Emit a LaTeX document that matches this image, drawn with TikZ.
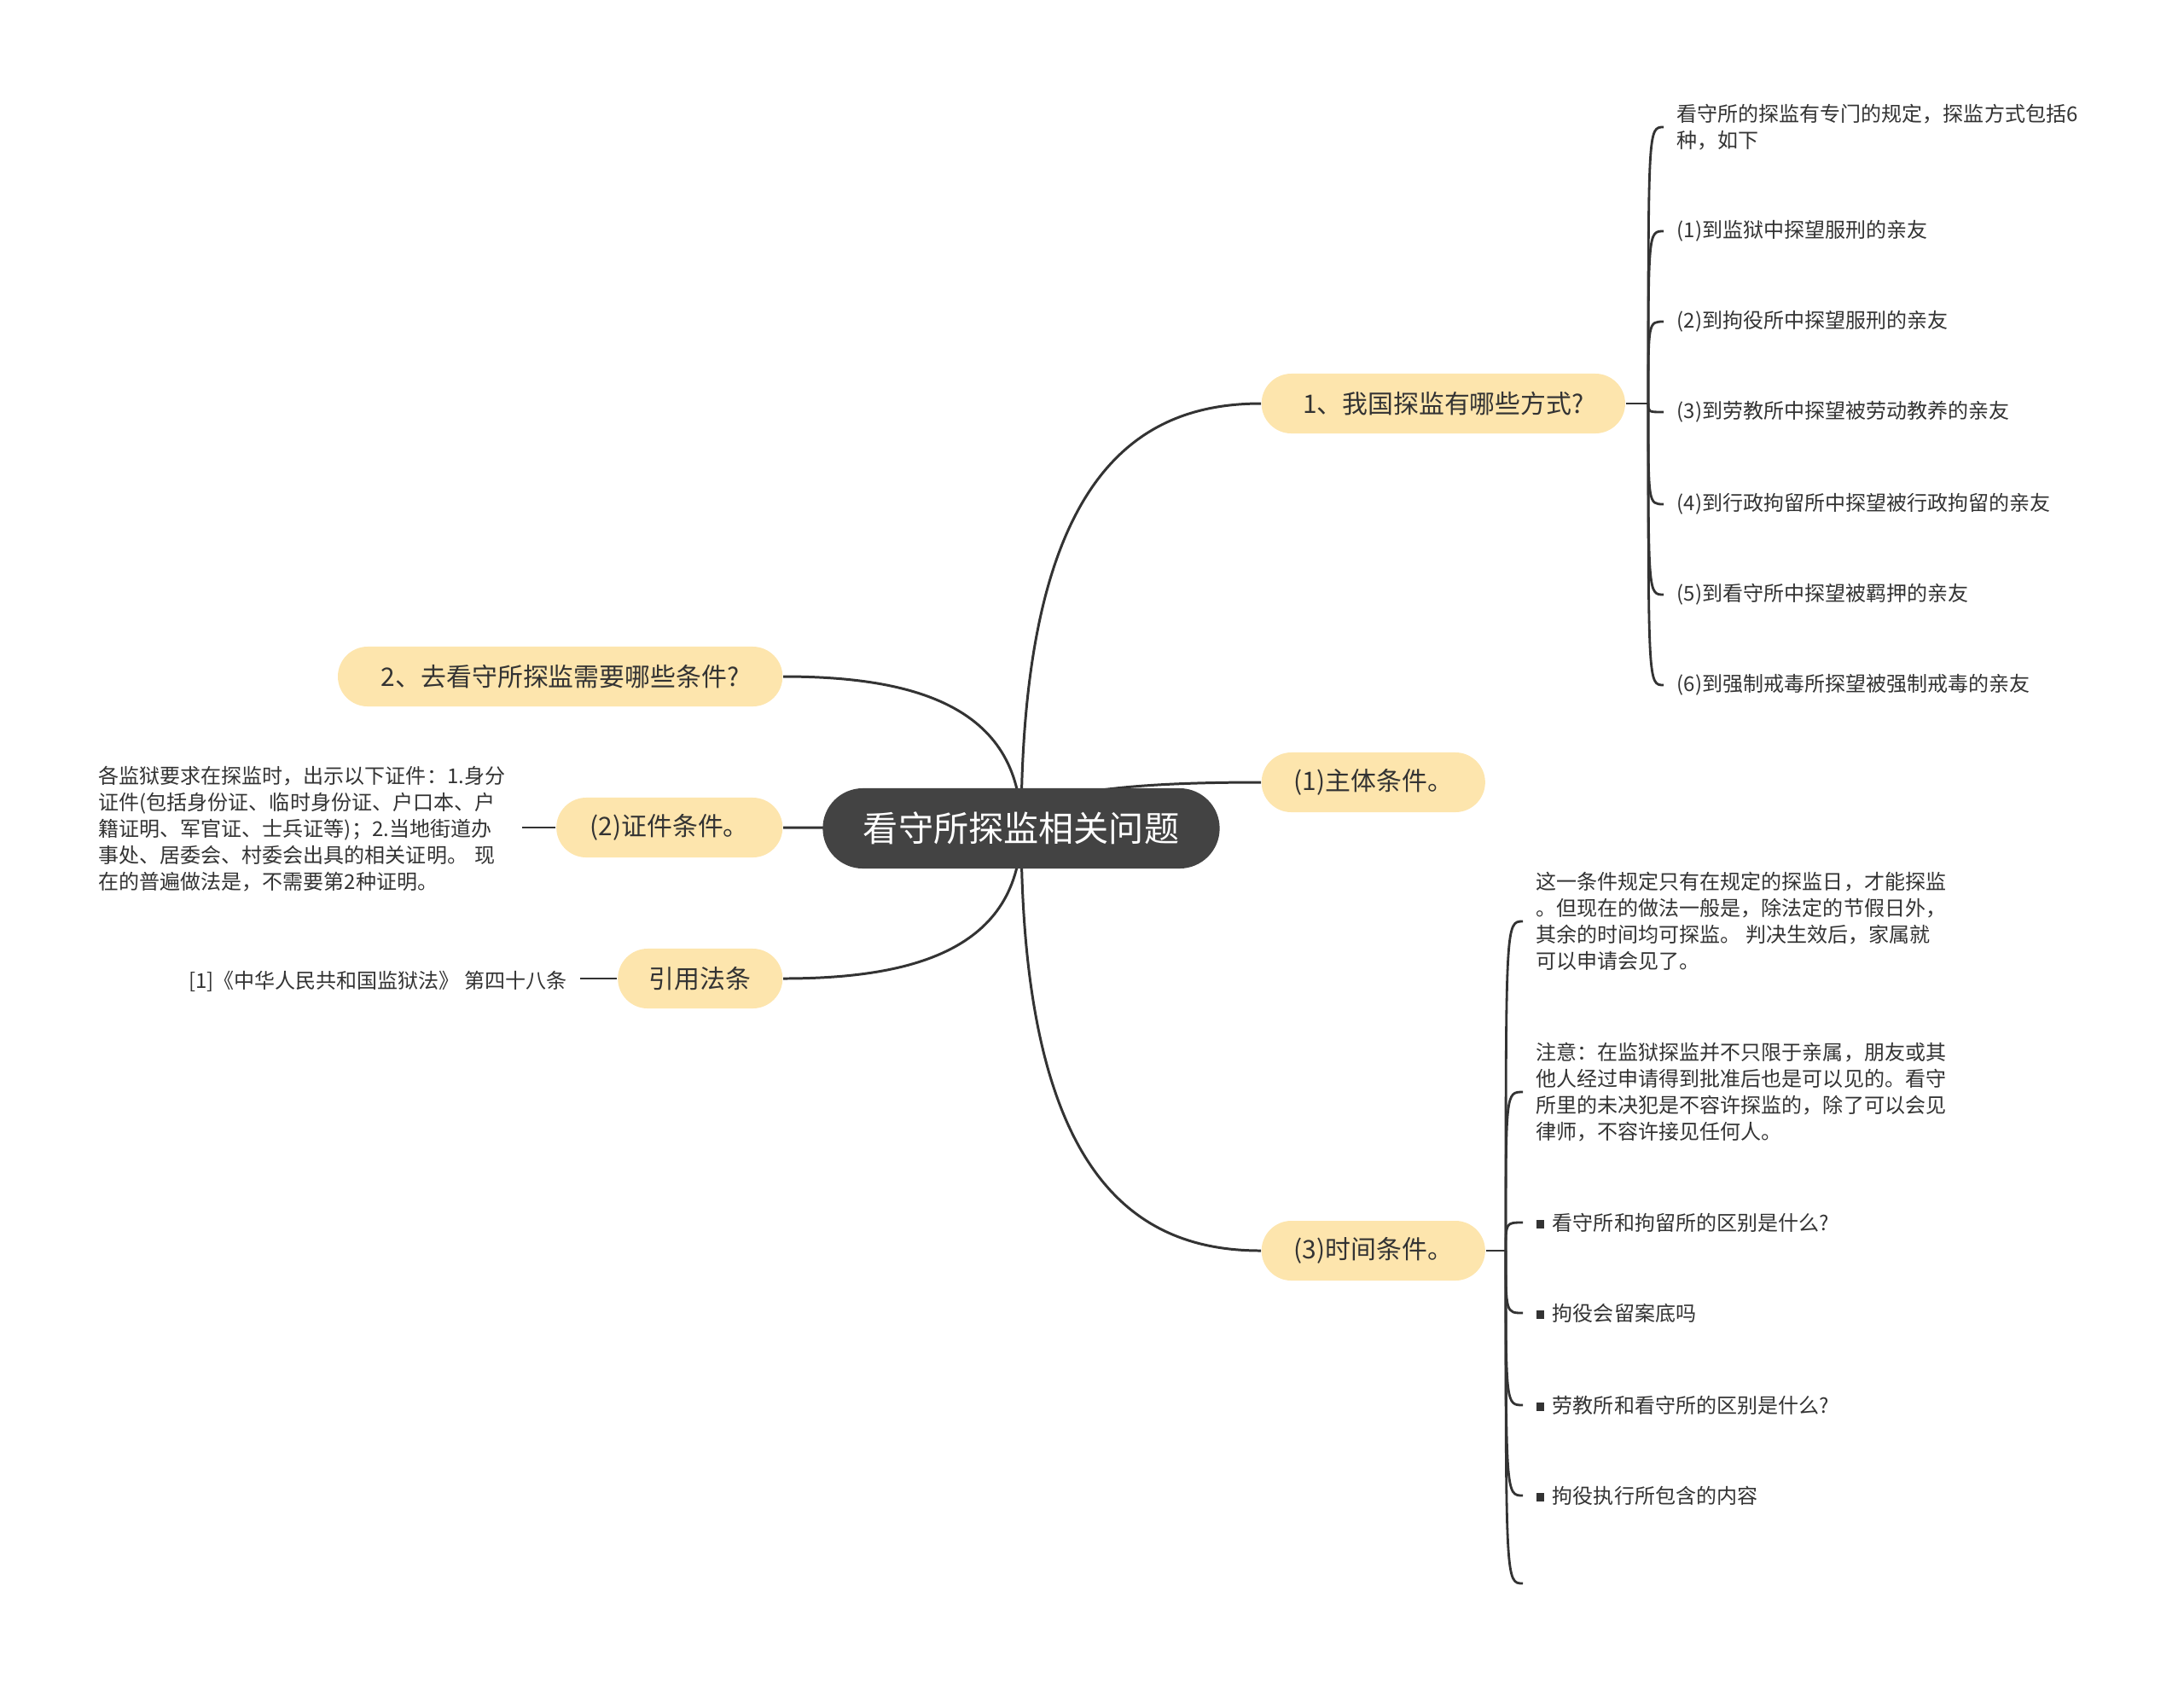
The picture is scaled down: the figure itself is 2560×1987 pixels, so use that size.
\documentclass[tikz,border=0pt]{standalone}
\usepackage{fontspec}
\setmainfont{Noto Sans CJK SC}
\usetikzlibrary{calc,backgrounds}
\definecolor{rootgray}{HTML}{434343}
\definecolor{topicyellow}{HTML}{FDE5AD}
\definecolor{inkgray}{HTML}{333333}
\newcommand{\sqbullet}{\rule[0.1em]{0.4em}{0.4em}\hspace{0.4em}}

\begin{document}
\begin{tikzpicture}[
  x=0.01cm, y=-0.01cm,
  root/.style={rounded corners=0.47cm, fill=rootgray, text=white, minimum height=0.94cm, minimum width=4.65cm, font=\fontsize{11.7pt}{14pt}\selectfont},
  topic/.style={rounded corners=0.35cm, fill=topicyellow, text=inkgray, minimum height=0.7cm, font=\fontsize{8.5pt}{10pt}\selectfont},
  leaf/.style={align=left, text=inkgray, inner xsep=0.15cm, inner ysep=0pt, font=\fontsize{6.83pt}{8.82pt}\selectfont},
  trunk/.style={draw=inkgray, line width=0.85pt, to path={.. controls ($(\tikztostart)!0.82!(\tikztostart |- \tikztotarget)$) and ($(\tikztotarget)!0.53!(\tikztostart |- \tikztotarget)$) .. (\tikztotarget)}},
  twig/.style={draw=inkgray, line width=0.8pt, to path={.. controls (\tikztostart |- \tikztotarget) .. (\tikztotarget)}}
]
\useasboundingbox (0,0) rectangle (2560,1987);

% centre and main topics
\node[root] (root) at (1197,971) {看守所探监相关问题};
\node[topic, anchor=west, minimum width=4.26cm] (ways) at (1478,473) {1、我国探监有哪些方式?};
\node[topic, anchor=west, minimum width=2.62cm] (subject) at (1478,917) {(1)主体条件。};
\node[topic, anchor=west, minimum width=2.62cm] (timing) at (1478,1466) {(3)时间条件。};
\node[topic, anchor=east, minimum width=5.21cm] (needs) at (918,793) {2、去看守所探监需要哪些条件?};
\node[topic, anchor=east, minimum width=2.65cm] (papers) at (918,970) {(2)证件条件。};
\node[topic, anchor=east, minimum width=1.93cm] (lawref) at (918,1147) {引用法条};

% ways of visiting
\coordinate (waysHub) at (1932,473);
\node[leaf, anchor=west] (w0) at (1950,149) {看守所的探监有专门的规定，探监方式包括6\\种，如下};
\node[leaf, anchor=west] (w1) at (1950,271) {(1)到监狱中探望服刑的亲友};
\node[leaf, anchor=west] (w2) at (1950,377) {(2)到拘役所中探望服刑的亲友};
\node[leaf, anchor=west] (w3) at (1950,483) {(3)到劳教所中探望被劳动教养的亲友};
\node[leaf, anchor=west] (w4) at (1950,591) {(4)到行政拘留所中探望被行政拘留的亲友};
\node[leaf, anchor=west] (w5) at (1950,697) {(5)到看守所中探望被羁押的亲友};
\node[leaf, anchor=west] (w6) at (1950,803) {(6)到强制戒毒所探望被强制戒毒的亲友};

% time conditions
\coordinate (timeHub) at (1765,1466);
\node[leaf, anchor=west] (t1) at (1785,1080) {这一条件规定只有在规定的探监日，才能探监\\。但现在的做法一般是，除法定的节假日外，\\其余的时间均可探监。 判决生效后，家属就\\可以申请会见了。};
\node[leaf, anchor=west] (t2) at (1785,1280) {注意：在监狱探监并不只限于亲属，朋友或其\\他人经过申请得到批准后也是可以见的。看守\\所里的未决犯是不容许探监的，除了可以会见\\律师，不容许接见任何人。};
\node[leaf, anchor=west] (t3) at (1785,1433) {\sqbullet 看守所和拘留所的区别是什么?};
\node[leaf, anchor=west] (t4) at (1785,1539) {\sqbullet 拘役会留案底吗};
\node[leaf, anchor=west] (t5) at (1785,1647) {\sqbullet 劳教所和看守所的区别是什么?};
\node[leaf, anchor=west] (t6) at (1785,1753) {\sqbullet 拘役执行所包含的内容};
\coordinate (t7) at (1785,1856);

% left leaves
\node[leaf, anchor=west, text width=4.8cm] (paperText) at (100,972) {各监狱要求在探监时，出示以下证件：1.身分\\证件(包括身份证、临时身份证、户口本、户\\籍证明、军官证、士兵证等)；2.当地街道办\\事处、居委会、村委会出具的相关证明。 现\\在的普遍做法是，不需要第2种证明。};
\node[leaf, anchor=east] (lawText) at (680,1150) {[1]《中华人民共和国监狱法》 第四十八条};

\begin{scope}[on background layer]
  \draw[trunk] (root.center) to (ways.west);
  \draw[trunk] (root.center) to (subject.west);
  \draw[trunk] (root.center) to (timing.west);
  \draw[trunk] (root.center) to (needs.east);
  \draw[trunk] (root.center) to (lawref.east);
  \draw[inkgray, line width=0.85pt] (root.center) -- (papers.east);
\end{scope}

\draw[inkgray, line width=0.8pt] (ways.east) -- (waysHub);
\foreach \w in {w0,w1,w2,w3,w4,w5,w6}
  \draw[twig] (waysHub) to (\w.west);
\draw[inkgray, line width=0.8pt] (timing.east) -- (timeHub);
\foreach \t in {t1,t2,t3,t4,t5,t6}
  \draw[twig] (timeHub) to (\t.west);
\draw[twig] (timeHub) to (t7);
\draw[inkgray, line width=0.8pt] (papers.west) -- (paperText.east |- papers.west);
\draw[inkgray, line width=0.8pt] (lawref.west) -- (lawText.east |- lawref.west);
\end{tikzpicture}
\end{document}
